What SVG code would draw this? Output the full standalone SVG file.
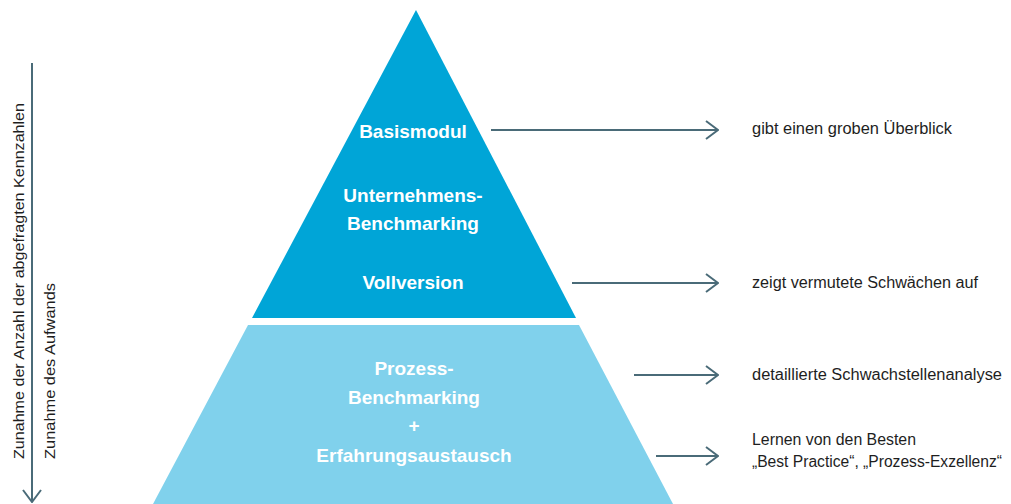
<svg xmlns="http://www.w3.org/2000/svg" width="1011" height="504" viewBox="0 0 1011 504">
<style>
.lbl{font-family:"Liberation Sans",Arial,sans-serif;font-weight:bold;font-size:19px;fill:#ffffff;text-anchor:middle}
.note{font-family:"Liberation Sans",Arial,sans-serif;font-size:16px;fill:#1e1e1e}
.axis{font-family:"Liberation Sans",Arial,sans-serif;font-size:15.5px;fill:#1e1e1e}
.conn{stroke:#4a6b78;stroke-width:2;fill:none}
</style>
<defs>
<marker id="chev" viewBox="0 0 14 20" refX="13" refY="10" markerWidth="14" markerHeight="20" markerUnits="userSpaceOnUse" orient="auto">
<path d="M1,1 L13,10 L1,19" fill="none" stroke="#4a6b78" stroke-width="2"/>
</marker>
</defs>
<rect width="1011" height="504" fill="#ffffff"/>
<g id="node-top">
<polygon points="416,10 576,318 252,318" fill="#00a5d7"/>
<text class="lbl" x="413" y="138">Basismodul</text>
<text class="lbl" x="413" y="202">Unternehmens-</text>
<text class="lbl" x="413" y="230">Benchmarking</text>
<text class="lbl" x="413" y="289">Vollversion</text>
</g>
<g id="node-bottom">
<polygon points="248,325 579,325 673,504 153,504" fill="#80d1ec"/>
<text class="lbl" x="414" y="375">Prozess-</text>
<text class="lbl" x="414" y="404">Benchmarking</text>
<text class="lbl" x="414" y="432">+</text>
<text class="lbl" x="414" y="462">Erfahrungsaustausch</text>
</g>
<g id="connectors">
<line class="conn" x1="491" y1="130" x2="718" y2="130" marker-end="url(#chev)"/>
<line class="conn" x1="572" y1="283" x2="718" y2="283" marker-end="url(#chev)"/>
<line class="conn" x1="634" y1="375" x2="718" y2="375" marker-end="url(#chev)"/>
<line class="conn" x1="656" y1="456" x2="718" y2="456" marker-end="url(#chev)"/>
<line class="conn" x1="32" y1="63" x2="32" y2="502" marker-end="url(#chev)"/>
</g>
<g id="notes">
<text class="note" x="752" y="134" textLength="200" lengthAdjust="spacingAndGlyphs">gibt einen groben Überblick</text>
<text class="note" x="752" y="288" textLength="226" lengthAdjust="spacingAndGlyphs">zeigt vermutete Schwächen auf</text>
<text class="note" x="752" y="380" textLength="250" lengthAdjust="spacingAndGlyphs">detaillierte Schwachstellenanalyse</text>
<text class="note" x="752" y="445" textLength="164" lengthAdjust="spacingAndGlyphs">Lernen von den Besten</text>
<text class="note" x="752" y="467" textLength="250" lengthAdjust="spacingAndGlyphs">„Best Practice“, „Prozess-Exzellenz“</text>
</g>
<g id="axis-labels">
<text class="axis" transform="translate(24,459) rotate(-90)" textLength="356" lengthAdjust="spacingAndGlyphs">Zunahme der Anzahl der abgefragten Kennzahlen</text>
<text class="axis" transform="translate(55,459) rotate(-90)" textLength="176" lengthAdjust="spacingAndGlyphs">Zunahme des Aufwands</text>
</g>
</svg>
